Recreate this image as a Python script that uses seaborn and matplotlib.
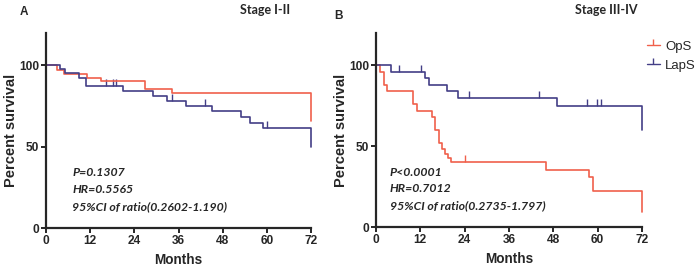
import matplotlib
matplotlib.use("Agg")
import matplotlib.pyplot as plt
from matplotlib.lines import Line2D
import seaborn as sns

# %%
# Panel A, stage I-II: step points (months, percent survival)
a_ops_t = [0, 3.1, 5.0, 11.2, 15.0, 27.0, 34.2, 72]
a_ops_s = [100, 97.5, 95.0, 92.5, 90.2, 85.5, 83.0, 66.0]
a_lap_t = [0, 3.8, 5.2, 9.1, 11.0, 21.0, 29.2, 32.8, 38.0, 45.2, 53.1, 55.3, 58.9, 72]
a_lap_s = [100, 97.7, 95.3, 92.4, 87.2, 84.3, 81.2, 78.2, 75.1, 71.9, 68.3, 64.7, 61.3, 50.0]
a_lap_cens_t = [16.2, 18.1, 19.1, 34.1, 43.1, 60.0]
a_lap_cens_s = [87.2, 87.2, 87.2, 78.2, 75.1, 61.3]

# Panel B, stage III-IV
b_ops_t = [0, 1.1, 2.2, 3.1, 10.1, 11.0, 15.1, 16.0, 17.1, 18.0, 18.7, 19.6, 20.2, 46.0, 57.7, 58.8, 72]
b_ops_s = [100, 96, 88, 84, 76, 72, 68, 60, 52, 48, 45, 42.5, 40, 35.5, 31, 22, 9]
b_ops_cens_t = [24.1]
b_ops_cens_s = [40]
b_lap_t = [0, 4.2, 13.3, 14.3, 19.2, 22.2, 49.0, 72]
b_lap_s = [100, 96, 92, 88, 84, 80, 75, 60]
b_lap_cens_t = [6.2, 12.2, 25.2, 44.1, 57.1, 59.9, 60.9]
b_lap_cens_s = [96, 96, 80, 80, 75, 75, 75]

groups = ["OpS", "LapS"]
stats_a = ["P=0.1307", "HR=0.5565", "95%CI of ratio(0.2602-1.190)"]
stats_b = ["P<0.0001", "HR=0.7012", "95%CI of ratio(0.2735-1.797)"]
x_ticks = [0, 12, 24, 36, 48, 60, 72]
y_ticks = [0, 50, 100]

red = "#F0604B"
blue = "#433E86"

# %%
sns.set_style("ticks")
plt.rcParams["font.family"] = ["Liberation Sans", "DejaVu Sans"]

fig = plt.figure(figsize=(7, 2.69), dpi=100)
ax_a = fig.add_axes([0.0657, 0.1524, 0.3786, 0.725])
ax_b = fig.add_axes([0.5371, 0.1561, 0.38, 0.7212])


def draw_km(ax, t, s, color):
    sns.lineplot(x=t, y=s, ax=ax, color=color, lw=1.2, drawstyle="steps-post",
                 estimator=None, sort=False, clip_on=False)


def draw_cens(ax, t, s, color):
    sns.scatterplot(x=t, y=s, ax=ax, color=color, marker=2, s=22,
                    linewidth=1.0, clip_on=False)


draw_km(ax_a, a_ops_t, a_ops_s, red)
draw_km(ax_a, a_lap_t, a_lap_s, blue)
draw_cens(ax_a, a_lap_cens_t, a_lap_cens_s, blue)

draw_km(ax_b, b_ops_t, b_ops_s, red)
draw_km(ax_b, b_lap_t, b_lap_s, blue)
draw_cens(ax_b, b_ops_cens_t, b_ops_cens_s, red)
draw_cens(ax_b, b_lap_cens_t, b_lap_cens_s, blue)

for ax, stats, x0 in [(ax_a, stats_a, 7.1), (ax_b, stats_b, 3.8)]:
    ax.set_xlim(0, 72)
    ax.set_ylim(0, 120)
    ax.set_xticks(x_ticks)
    ax.set_yticks(y_ticks)
    sns.despine(ax=ax)
    for side in ["left", "bottom"]:
        ax.spines[side].set_linewidth(1.6)
    ax.tick_params(width=1.4, length=3.5, pad=1.5, labelsize=8.6)
    for lab in ax.get_xticklabels() + ax.get_yticklabels():
        lab.set_fontweight("bold")
    ax.set_xlabel("Months", fontsize=9.8, fontweight="bold", labelpad=4)
    ax.set_ylabel("Percent survival", fontsize=10.5, fontweight="bold", labelpad=1)
    for k, line in enumerate(stats):
        ax.text(x0, 34 - k * 10.3, line, fontsize=8.8, fontweight="bold",
                style="italic", family="Lato", va="center", ha="left")

fig.text(0.034, 0.955, "A", fontsize=8.5, fontweight="bold", ha="center", va="center")
fig.text(0.378, 0.962, "Stage I-II", fontsize=9, fontweight="bold",
         family="Lato", ha="center", va="center")
fig.text(0.483, 0.94, "B", fontsize=8.5, fontweight="bold", ha="center", va="center")
fig.text(0.866, 0.962, "Stage III-IV", fontsize=9, fontweight="bold",
         family="Lato", ha="center", va="center")

handles = [Line2D([0], [0], color=c, lw=1.0, marker=2, markersize=4, markeredgewidth=1.0)
           for c in [red, blue]]
fig.legend(handles, groups, loc="upper left", bbox_to_anchor=(0.924, 0.85),
           frameon=False, fontsize=9.5, handlelength=1.0, handletextpad=0.4,
           labelspacing=0.55, borderpad=0, borderaxespad=0)

fig.savefig("out.png", dpi=100)
